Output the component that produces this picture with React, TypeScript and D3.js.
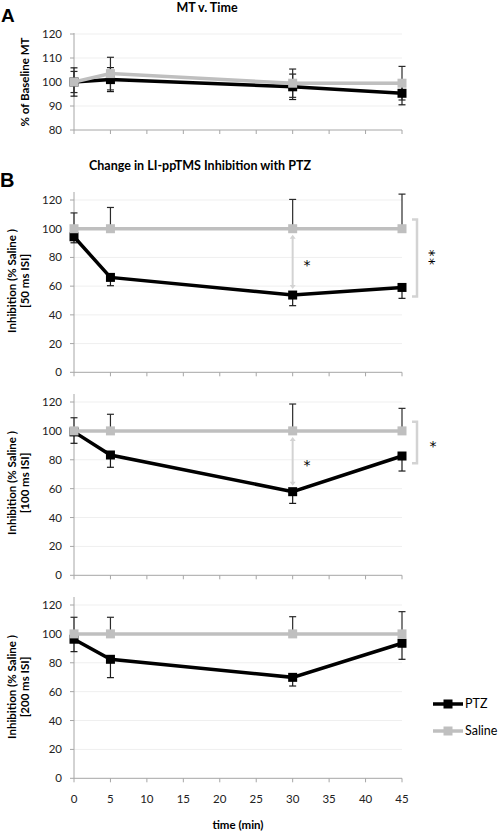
import React from "react";
import * as d3 from "d3";

// ---------- data ----------
const times = [0, 5, 30, 45];
const xTickValues = [0, 5, 10, 15, 20, 25, 30, 35, 40, 45];

const mtPTZ = [100, 101, 98, 95.3];
const mtPTZErr = [5.9, 5, 5.3, 4.8];
const mtSaline = [100, 103.5, 99.5, 99.5];
const mtSalineErr = [4.4, 6.8, 5.9, 7];

const isi50PTZ = [94.4, 66.1, 53.8, 59.1];
const isi50PTZErr = [4.2, 5.8, 7.4, 7.6];
const isi50Saline = [100, 100, 100, 100];
const isi50SalineErr = [11, 14.8, 20.4, 24.1];

const isi100PTZ = [99.3, 83.3, 57.9, 82.6];
const isi100PTZErr = [7.9, 8.5, 8.1, 10.4];
const isi100Saline = [100, 100, 100, 100];
const isi100SalineErr = [9.1, 11.5, 18.6, 15.6];

const isi200PTZ = [96.3, 82.4, 69.9, 93.5];
const isi200PTZErr = [8.6, 12.7, 6, 11.1];
const isi200Saline = [100, 100, 100, 100];
const isi200SalineErr = [11.5, 11.5, 11.9, 15.4];

const mtTicks = [80, 90, 100, 110, 120];
const inhTicks = [0, 20, 40, 60, 80, 100, 120];

const seriesNames = ["PTZ", "Saline"];

// ---------- style ----------
const FONT = "Lato, 'Open Sans', sans-serif";
const STARFONT = "'DejaVu Sans', sans-serif";
const BLACK = "#000000";
const GREY = "#bfbfbf";
const LIGHT = "#d3d3d3";
const AXIS = "#a6a6a6";
const GRID = "#efefef";

const X0 = 74;
const X1 = 402;
const x = d3.scaleLinear().domain([0, 45]).range([X0, X1]);

type PanelProps = {
  top: number;
  bottom: number;
  domain: [number, number];
  ticks: number[];
  ptz: number[];
  ptzUp: number[];
  ptzDown: number[];
  sal: number[];
  salUp: number[];
  salDown: number[];
  label1: string;
  label2?: string;
  labelCenterY: number;
  axisExtra: number;
  showXLabels?: boolean;
};

function Panel(p: PanelProps) {
  const y = d3.scaleLinear().domain(p.domain).range([p.bottom, p.top]);
  const line = d3
    .line<number>()
    .x((_, i) => x(times[i]))
    .y((d) => y(d));
  const cap = 3.5;
  const ms = 9;
  const errBars = (vals: number[], up: number[], down: number[], color: string) =>
    vals.map((v, i) => {
      const cx = x(times[i]);
      const hi = y(v + up[i]);
      const lo = y(v - down[i]);
      return (
        <g key={i} stroke={color} strokeWidth={1.2}>
          <line x1={cx} x2={cx} y1={hi} y2={lo} />
          {up[i] > 0 && <line x1={cx - cap} x2={cx + cap} y1={hi} y2={hi} />}
          {down[i] > 0 && <line x1={cx - cap} x2={cx + cap} y1={lo} y2={lo} />}
        </g>
      );
    });
  return (
    <g>
      {p.ticks
        .filter((t) => t !== p.domain[0])
        .map((t) => (
          <line key={t} x1={X0} x2={X1} y1={y(t)} y2={y(t)} stroke={GRID} strokeWidth={1} />
        ))}
      <line x1={X0} x2={X0} y1={p.top - p.axisExtra} y2={p.bottom} stroke={AXIS} strokeWidth={1} />
      <line x1={X0} x2={X1} y1={p.bottom} y2={p.bottom} stroke={AXIS} strokeWidth={1} />
      {p.ticks.map((t) => (
        <g key={t}>
          <line x1={X0 - 4} x2={X0} y1={y(t)} y2={y(t)} stroke={AXIS} />
          <text
            x={X0 - 12}
            y={y(t)}
            dy="0.35em"
            textAnchor="end"
            fontSize={11.5}
            fontFamily={FONT}
            fill="#222"
          >
            {t}
          </text>
        </g>
      ))}
      {xTickValues.map((t) => (
        <g key={t}>
          <line x1={x(t)} x2={x(t)} y1={p.bottom} y2={p.bottom + 4} stroke={AXIS} />
          {p.showXLabels && (
            <text
              x={x(t)}
              y={p.bottom + 25}
              textAnchor="middle"
              fontSize={11.5}
              fontFamily={FONT}
              fill="#222"
            >
              {t}
            </text>
          )}
        </g>
      ))}
      <text
        transform={`translate(${p.label2 ? 16 : 29},${p.labelCenterY}) rotate(-90)`}
        textAnchor="middle"
        fontSize={11.5}
        fontWeight="bold"
        fontFamily={FONT}
        fill="#000"
      >
        {p.label1}
      </text>
      {p.label2 && (
        <text
          transform={`translate(29,${p.labelCenterY}) rotate(-90)`}
          textAnchor="middle"
          fontSize={11.5}
          fontWeight="bold"
          fontFamily={FONT}
          fill="#000"
        >
          {p.label2}
        </text>
      )}
      {errBars(p.ptz, p.ptzUp, p.ptzDown, "#1a1a1a")}
      {errBars(p.sal, p.salUp, p.salDown, "#2a2a2a")}
      <path d={line(p.ptz) || ""} fill="none" stroke={BLACK} strokeWidth={3.5} />
      {p.ptz.map((v, i) => (
        <rect key={i} x={x(times[i]) - ms / 2} y={y(v) - ms / 2} width={ms} height={ms} fill={BLACK} />
      ))}
      <path d={line(p.sal) || ""} fill="none" stroke={GREY} strokeWidth={3.5} />
      {p.sal.map((v, i) => (
        <rect key={i} x={x(times[i]) - ms / 2} y={y(v) - ms / 2} width={ms} height={ms} fill={GREY} />
      ))}
    </g>
  );
}

function DoubleArrow({ cx, y1, y2 }: { cx: number; y1: number; y2: number }) {
  const h = 4;
  const w = 3;
  return (
    <g>
      <line x1={cx} x2={cx} y1={y1 + 2} y2={y2 - 2} stroke={LIGHT} strokeWidth={2} />
      <path d={`M${cx},${y1} L${cx - w},${y1 + h} L${cx + w},${y1 + h} Z`} fill={LIGHT} />
      <path d={`M${cx},${y2} L${cx - w},${y2 - h} L${cx + w},${y2 - h} Z`} fill={LIGHT} />
    </g>
  );
}

function Bracket({ xv, y1, y2 }: { xv: number; y1: number; y2: number }) {
  return (
    <path
      d={`M${xv - 5},${y1} L${xv},${y1} L${xv},${y2} L${xv - 5},${y2}`}
      fill="none"
      stroke={LIGHT}
      strokeWidth={2.5}
    />
  );
}

function Stars({ cx, cy, text, vertical = false, size = 14 }: { cx: number; cy: number; text: string; vertical?: boolean; size?: number }) {
  return (
    <text
      transform={`translate(${cx},${cy})${vertical ? " rotate(90)" : ""}`}
      x={0}
      y={size * 0.57}
      textAnchor="middle"
      fontSize={size}
      letterSpacing={vertical ? 1.5 : 0}
      fontFamily={STARFONT}
      fill="#000"
    >
      {text}
    </text>
  );
}

export default function App() {
  const zeros = [0, 0, 0, 0];
  const yB1 = d3.scaleLinear().domain([0, 120]).range([372.3, 200]);
  const yB2 = d3.scaleLinear().domain([0, 120]).range([575.3, 402]);
  return (
    <div style={{ position: "absolute", left: 0, top: 0 }}>
      <svg width={500} height={832} style={{ display: "block", background: "#fff" }}>
        <text x={1} y={22} fontSize={19} fontWeight="bold" fontFamily="'Liberation Sans', Arial, sans-serif">
          A
        </text>
        <text x={207} y={12} textAnchor="middle" fontSize={12.5} fontWeight="bold" fontFamily={FONT}>
          MT v. Time
        </text>
        <Panel
          top={34}
          bottom={130}
          domain={[80, 120]}
          ticks={mtTicks}
          ptz={mtPTZ}
          ptzUp={mtPTZErr}
          ptzDown={mtPTZErr}
          sal={mtSaline}
          salUp={mtSalineErr}
          salDown={mtSalineErr}
          label1="% of Baseline MT"
          labelCenterY={82}
          axisExtra={1}
        />

        <text x={0} y={187} fontSize={20} fontWeight="bold" fontFamily="'Liberation Sans', Arial, sans-serif">
          B
        </text>
        <text x={200} y={170} textAnchor="middle" fontSize={12.5} fontWeight="bold" fontFamily={FONT}>
          Change in LI-ppTMS Inhibition with PTZ
        </text>

        <Panel
          top={200}
          bottom={372.3}
          domain={[0, 120]}
          ticks={inhTicks}
          ptz={isi50PTZ}
          ptzUp={zeros}
          ptzDown={isi50PTZErr}
          sal={isi50Saline}
          salUp={isi50SalineErr}
          salDown={zeros}
          label1="Inhibition (% Saline )"
          label2="[50 ms ISI]"
          labelCenterY={281}
          axisExtra={8}
        />
        <DoubleArrow cx={x(30)} y1={yB1(100) + 6} y2={yB1(isi50PTZ[2]) - 6} />
        <Stars cx={307} cy={262} text="*" />
        <Bracket xv={417} y1={219.5} y2={296.5} />
        <Stars cx={433} cy={258} text="**" vertical />

        <Panel
          top={402}
          bottom={575.3}
          domain={[0, 120]}
          ticks={inhTicks}
          ptz={isi100PTZ}
          ptzUp={zeros}
          ptzDown={isi100PTZErr}
          sal={isi100Saline}
          salUp={isi100SalineErr}
          salDown={zeros}
          label1="Inhibition (% Saline )"
          label2="[100 ms ISI]"
          labelCenterY={483}
          axisExtra={8}
        />
        <DoubleArrow cx={x(30)} y1={yB2(100) + 6} y2={yB2(isi100PTZ[2]) - 6} />
        <Stars cx={307} cy={462} text="*" />
        <Bracket xv={417} y1={421.7} y2={463.3} />
        <Stars cx={433} cy={443} text="*" />

        <Panel
          top={605}
          bottom={778.3}
          domain={[0, 120]}
          ticks={inhTicks}
          ptz={isi200PTZ}
          ptzUp={zeros}
          ptzDown={isi200PTZErr}
          sal={isi200Saline}
          salUp={isi200SalineErr}
          salDown={zeros}
          label1="Inhibition (% Saline )"
          label2="[200 ms ISI]"
          labelCenterY={687}
          axisExtra={8}
          showXLabels
        />
        <text x={238} y={829} textAnchor="middle" fontSize={11.5} fontWeight="bold" fontFamily={FONT}>
          time (min)
        </text>

        {seriesNames.map((name, i) => {
          const ly = 704 + i * 27;
          const color = i === 0 ? BLACK : GREY;
          return (
            <g key={name}>
              <line x1={433} x2={463} y1={ly} y2={ly} stroke={color} strokeWidth={3.5} />
              <rect x={443.5} y={ly - 4.5} width={9} height={9} fill={color} />
              <text x={465} y={ly} dy="0.35em" fontSize={12.5} fontFamily={FONT} fill="#000">
                {name}
              </text>
            </g>
          );
        })}
      </svg>
    </div>
  );
}
